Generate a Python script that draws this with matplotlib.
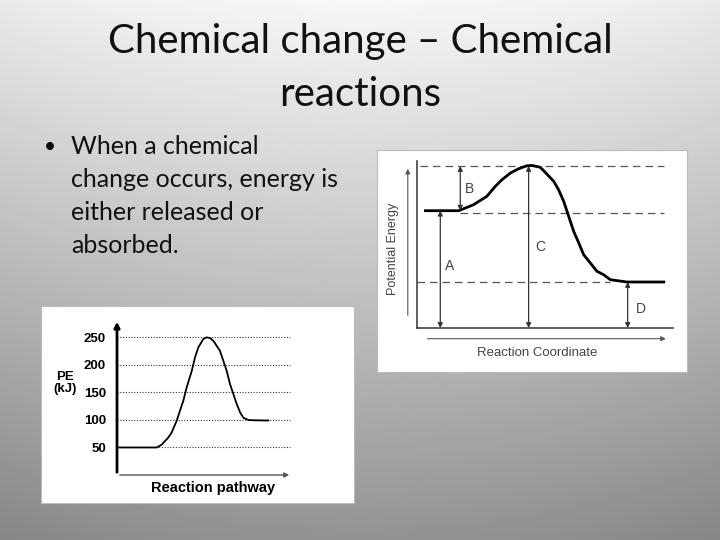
import numpy as np
import matplotlib
matplotlib.use("Agg")
from matplotlib import pyplot as plt
from matplotlib.patches import Rectangle

# left chart: PE (kJ) along the reaction pathway
pe_x = [0, 2.27, 2.55, 2.93, 3.12, 3.41, 3.6, 3.79, 3.98, 4.27, 4.46, 4.65, 4.93,
        5.12, 5.31, 5.5, 5.88, 6.27, 6.46, 6.65, 6.84, 7.03, 7.22, 7.5, 7.79, 8.65]
pe_y = [50, 50, 55, 68, 77, 98.5, 117, 135, 159, 189, 214, 232, 247,
        250, 249, 244, 226, 189, 165, 147, 129, 114, 104, 100, 99.5, 99]
pe_ticks = [50, 100, 150, 200, 250]

# right chart: potential energy along the reaction coordinate
rc_x = [0.33, 1.63, 2.21, 2.73, 3.06, 3.32, 3.65, 3.97, 4.30, 4.50, 4.82, 5.34, 5.53,
        5.73, 6.12, 6.32, 6.51, 6.77, 7.03, 7.29, 7.55, 8.2, 9.64]
rc_y = [11.73, 11.73, 12.33, 13.17, 14.17, 14.83, 15.5, 15.93, 16.23, 16.25, 16.07,
        14.67, 13.83, 12.67, 9.67, 8.5, 7.33, 6.5, 5.67, 5.33, 4.83, 4.6, 4.6]
reactant = 11.73
peak = 16.2
product = 4.6
arrow_labels = ["A", "B", "C", "D"]
arrow_x = [0.91, 1.69, 4.36, 8.23]
arrow_lo = [0, reactant, 0, 0]
arrow_hi = [reactant, peak, peak, product]
label_x = [1.28, 2.06, 4.82, 8.75]
label_y = [6.17, 13.93, 8.07, 1.9]

W, H = 720, 540
fig = plt.figure(figsize=(7.2, 5.4), dpi=100)


def fx(px):
    return px / W


def fy(py):
    return 1 - py / H


# slide background gradient
bg = fig.add_axes([0, 0, 1, 1], zorder=-10)
yy, xx = np.mgrid[0:H, 0:W]
shade = 0.965 - 0.39 * (yy / H) - 0.05 * (np.abs(xx - 360) / 360) ** 2
bg.imshow(shade, cmap="gray", vmin=0, vmax=1, aspect="auto", extent=[0, 1, 0, 1])
bg.set_axis_off()

# title
fig.text(0.5, fy(42), "Chemical change \u2013 Chemical", ha="center", va="center",
         fontsize=29, family="Lato", color="#111111")
fig.text(0.5, fy(95), "reactions", ha="center", va="center",
         fontsize=29, family="Lato", color="#111111")

# bullet
fig.text(fx(44), fy(147), "\u2022", ha="left", va="center", fontsize=15, family="Lato")
lines = ["When a chemical", "change occurs, energy is", "either released or", "absorbed."]
for i, ln in enumerate(lines):
    fig.text(fx(71), fy(147 + 33 * i), ln, ha="left", va="center",
             fontsize=18, family="Lato", color="#111111")

# white boxes behind the two pictures
for x0, y0, x1, y1 in [(41, 306, 354, 503), (377, 150, 687, 372)]:
    fig.patches.append(Rectangle((fx(x0), fy(y1)), fx(x1 - x0), (y1 - y0) / H,
                                 transform=fig.transFigure, facecolor="white",
                                 edgecolor="#bbbbbb", lw=0.8, zorder=-5))

# ---- left chart
ax1 = fig.add_axes([fx(117), fy(475), fx(175), 153 / H])
ax1.set_xlim(0, 10)
ax1.set_ylim(0, 278)
for s in ax1.spines.values():
    s.set_visible(False)
ax1.set_facecolor("none")
for t in pe_ticks:
    ax1.plot([0, 9.9], [t, t], color="#333333", lw=0.8, linestyle=(0, (1, 1.5)))
ax1.plot(pe_x, pe_y, color="black", lw=1.3)
ax1.annotate("", xy=(0, 1.02), xytext=(0, 0), xycoords="axes fraction",
             arrowprops=dict(arrowstyle="-|>", color="black", lw=2, mutation_scale=8))
ax1.annotate("", xy=(1.0, 0), xytext=(0, 0), xycoords="axes fraction",
             arrowprops=dict(arrowstyle="-|>", color="#555555", lw=1, mutation_scale=7))
ax1.set_xticks([])
ax1.set_yticks(pe_ticks)
ax1.set_yticklabels([str(t) for t in pe_ticks], fontweight="bold", fontsize=9.5,
                    family="Liberation Sans")
ax1.tick_params(axis="y", length=0, pad=8)
fig.text(fx(65), fy(383), "PE\n(kJ)", ha="center", va="center", fontsize=9.5,
         fontweight="bold", family="Liberation Sans", linespacing=1.1)
fig.text(fx(213), fy(488), "Reaction pathway", ha="center", va="center", fontsize=10.5,
         fontweight="bold", family="Liberation Sans")

# ---- right chart
gray = "#444444"
ax2 = fig.add_axes([fx(417), fy(328), fx(256), 167 / H])
ax2.set_xlim(0, 10)
ax2.set_ylim(0, 16.7)
ax2.set_facecolor("none")
ax2.spines["top"].set_visible(False)
ax2.spines["right"].set_visible(False)
for s in ["left", "bottom"]:
    ax2.spines[s].set_color("#333333")
    ax2.spines[s].set_linewidth(1.1)
ax2.set_xticks([])
ax2.set_yticks([])
dash = (0, (6, 4))
ax2.plot([0.13, 9.64], [peak, peak], color="#555555", lw=0.9, linestyle=dash)
ax2.plot([1.69, 9.64], [reactant - 0.2, reactant - 0.2], color="#555555", lw=0.9, linestyle=dash)
ax2.plot([0, 7.55], [product + 0.05, product + 0.05], color="#555555", lw=0.9, linestyle=dash)
ax2.plot(rc_x, rc_y, color="black", lw=2)
for lab, xa, lo, hi, lx, ly in zip(arrow_labels, arrow_x, arrow_lo, arrow_hi, label_x, label_y):
    ax2.annotate("", xy=(xa, hi), xytext=(xa, lo),
                 arrowprops=dict(arrowstyle="<|-|>", color="#333333", lw=0.9,
                                 mutation_scale=7, shrinkA=0, shrinkB=0))
    ax2.text(lx, ly, lab, ha="center", va="center", fontsize=10, color=gray,
             family="Liberation Sans")
ax2.annotate("", xy=(-0.036, 0.97), xytext=(-0.036, 0.06), xycoords="axes fraction",
             arrowprops=dict(arrowstyle="-|>", color="#555555", lw=0.8, mutation_scale=7))
ax2.annotate("", xy=(0.983, -0.064), xytext=(0.03, -0.064), xycoords="axes fraction",
             arrowprops=dict(arrowstyle="-|>", color="#555555", lw=0.8, mutation_scale=7))
fig.text(fx(537), fy(353), "Reaction Coordinate", ha="center", va="center",
         fontsize=9.5, color=gray, family="Liberation Sans")
fig.text(fx(393.5), fy(249), "Potential Energy", ha="center", va="center",
         fontsize=9, color=gray, family="Liberation Sans", rotation=90)

fig.savefig("out.png", dpi=100)
